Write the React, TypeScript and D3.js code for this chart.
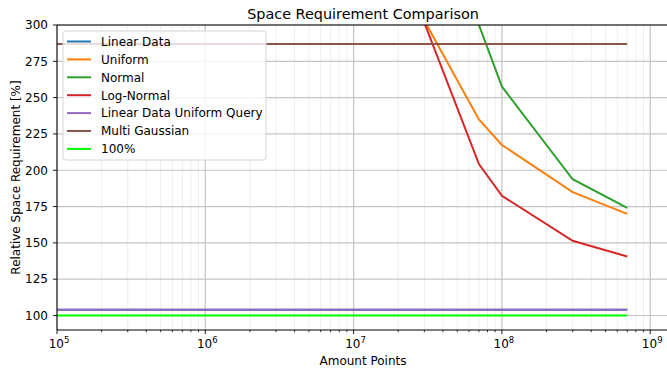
import React, { useEffect, useRef } from 'react';
import * as d3 from 'd3';

// amount of points per run
const points = [1e5, 1e6, 1e7, 3e7, 7e7, 1e8, 3e8, 7e8];

const linearData = [103.9, 103.9, 103.9, 103.9, 103.9, 103.9, 103.9, 103.9];
const uniform = [2600, 900, 420, 303, 235, 217.4, 184.9, 170];
const normal = [3200, 1200, 600, 420, 300, 257.6, 193.8, 174.1];
const logNormal = [2400, 850, 380, 301.5, 204.2, 182.4, 151.4, 140.6];
const linearUniformQuery = [103.9, 103.9, 103.9, 103.9, 103.9, 103.9, 103.9, 103.9];
const multiGaussian = [286.9, 286.9, 286.9, 286.9, 286.9, 286.9, 286.9, 286.9];
const baseline = [100, 100, 100, 100, 100, 100, 100, 100];

const seriesNames = ['Linear Data', 'Uniform', 'Normal', 'Log-Normal', 'Linear Data Uniform Query', 'Multi Gaussian', '100%'];
const seriesColors = ['#1f77b4', '#ff7f0e', '#2ca02c', '#d62728', '#9467bd', '#8c564b', '#00ff00'];
const seriesValues = [linearData, uniform, normal, logNormal, linearUniformQuery, multiGaussian, baseline];

const yTicks = [100, 125, 150, 175, 200, 225, 250, 275, 300];
const xDecades = [5, 6, 7, 8, 9];

const App = () => {
    const ref = useRef<SVGSVGElement>(null);

    useEffect(() => {
        const width = 667;
        const height = 373;
        const left = 57, right = 668, top = 25, bottom = 330;
        const font = 'DejaVu Sans, sans-serif';

        const svg = d3.select(ref.current);
        svg.selectAll('*').remove();
        svg.attr('width', width).attr('height', height);

        const x = d3.scaleLog().domain([1e5, 1e9]).range([left, left + 148.3 * 4]);
        const y = d3.scaleLinear().domain([90, 300]).range([bottom, top]);

        svg.append('rect').attr('width', width).attr('height', height).attr('fill', 'white');

        svg.append('clipPath').attr('id', 'plot-clip')
            .append('rect').attr('x', left).attr('y', top)
            .attr('width', right - left).attr('height', bottom - top);

        // minor / major ticks on log axis
        const minor: number[] = [];
        xDecades.forEach(e => {
            for (let k = 2; k <= 9; k++) {
                const v = k * Math.pow(10, e);
                if (x(v) < right) minor.push(v);
            }
        });
        const major = xDecades.map(e => Math.pow(10, e));

        const grid = svg.append('g');
        grid.selectAll('.minor').data(minor).join('line')
            .attr('x1', d => x(d)).attr('x2', d => x(d))
            .attr('y1', top).attr('y2', bottom)
            .attr('stroke', '#eeeeee').attr('stroke-width', 1);
        grid.selectAll('.majx').data(major).join('line')
            .attr('x1', d => x(d)).attr('x2', d => x(d))
            .attr('y1', top).attr('y2', bottom)
            .attr('stroke', '#c4c4c4').attr('stroke-width', 1.2);
        grid.selectAll('.majy').data(yTicks).join('line')
            .attr('x1', left).attr('x2', right)
            .attr('y1', d => y(d)).attr('y2', d => y(d))
            .attr('stroke', '#c4c4c4').attr('stroke-width', 1.2);

        const line = d3.line<number>()
            .x((d, i) => x(points[i]))
            .y(d => y(d));

        svg.append('g').attr('clip-path', 'url(#plot-clip)')
            .selectAll('path').data(seriesValues).join('path')
            .attr('d', d => line(d))
            .attr('fill', 'none')
            .attr('stroke', (d, i) => seriesColors[i])
            .attr('stroke-width', 2);

        // spines
        const axes = svg.append('g').attr('stroke', 'black').attr('stroke-width', 1);
        axes.append('line').attr('x1', left).attr('x2', left).attr('y1', top).attr('y2', bottom);
        axes.append('line').attr('x1', left).attr('x2', right).attr('y1', bottom).attr('y2', bottom);
        axes.append('line').attr('x1', left).attr('x2', right).attr('y1', top).attr('y2', top);

        // x ticks
        axes.selectAll('.xminor').data(minor).join('line')
            .attr('x1', d => x(d)).attr('x2', d => x(d))
            .attr('y1', bottom).attr('y2', bottom + 2.2).attr('stroke-width', 0.8);
        axes.selectAll('.xmajor').data(major).join('line')
            .attr('x1', d => x(d)).attr('x2', d => x(d))
            .attr('y1', bottom).attr('y2', bottom + 4).attr('stroke-width', 0.9);
        axes.selectAll('.ytick').data(yTicks).join('line')
            .attr('x1', left - 4).attr('x2', left)
            .attr('y1', d => y(d)).attr('y2', d => y(d)).attr('stroke-width', 0.9);

        const xLabels = svg.append('g').attr('font-family', font).attr('font-size', 12)
            .attr('text-anchor', 'middle').attr('fill', '#000');
        xLabels.selectAll('text').data(xDecades).join('text')
            .attr('x', d => x(Math.pow(10, d)) + 2)
            .attr('y', 348)
            .call(t => t.append('tspan').text('10'))
            .call(t => t.append('tspan').attr('font-size', 8.5).attr('dy', -5).text(d => String(d)));

        svg.append('g').attr('font-family', font).attr('font-size', 12)
            .attr('text-anchor', 'end')
            .selectAll('text').data(yTicks).join('text')
            .attr('x', 48).attr('y', d => y(d)).attr('dy', '0.36em')
            .text(d => d);

        svg.append('text').attr('font-family', font).attr('font-size', 14.4)
            .attr('text-anchor', 'middle').attr('x', 363).attr('y', 19)
            .text('Space Requirement Comparison');

        svg.append('text').attr('font-family', font).attr('font-size', 12)
            .attr('text-anchor', 'middle').attr('x', 363).attr('y', 365)
            .text('Amount Points');

        svg.append('text').attr('font-family', font).attr('font-size', 12)
            .attr('text-anchor', 'middle')
            .attr('transform', `translate(19.5, ${(top + bottom) / 2}) rotate(-90)`)
            .text('Relative Space Requirement [%]');

        // legend
        const legend = svg.append('g').attr('font-family', font).attr('font-size', 12);
        legend.append('rect')
            .attr('x', 63).attr('y', 31).attr('width', 203).attr('height', 129)
            .attr('rx', 3).attr('fill', 'white').attr('fill-opacity', 0.8)
            .attr('stroke', '#d6d6d6').attr('stroke-width', 1);
        const items = legend.selectAll('.item').data(seriesNames).join('g')
            .attr('transform', (d, i) => `translate(0, ${41.5 + i * 17.9})`);
        items.append('line')
            .attr('x1', 67).attr('x2', 91)
            .attr('stroke', (d, i) => seriesColors[i]).attr('stroke-width', 2);
        items.append('text').attr('x', 101).attr('dy', '0.36em').text(d => d);
    }, []);

    return (
        <svg ref={ref} style={{ position: 'absolute', left: 0, top: 0, display: 'block' }} />
    );
};

export default App;
